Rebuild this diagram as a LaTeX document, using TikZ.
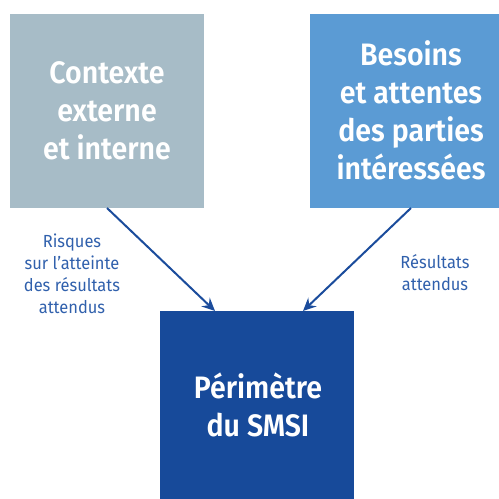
\documentclass[tikz,border=0pt]{standalone}
\usepackage{fontspec}
\setmainfont{Fira Sans}
\newfontfamily\boxfont[FakeStretch=0.92]{Fira Sans SemiBold}
\newfontfamily\lblfont[FakeStretch=0.94]{Fira Sans}
\usetikzlibrary{arrows.meta}
\definecolor{cgrey}{HTML}{A7BCC7}
\definecolor{clight}{HTML}{5B9BD4}
\definecolor{cdark}{HTML}{174A9A}
\definecolor{carrow}{HTML}{1B4C9C}
\definecolor{clabel}{HTML}{3060AC}
\begin{document}
\begin{tikzpicture}[x=1pt,y=-1pt,
  boxtext/.style={text=white,font=\boxfont\fontsize{31}{38}\selectfont,align=center},
  lbltext/.style={text=clabel,font=\lblfont\fontsize{17.5}{22}\selectfont,align=center},
  conn/.style={draw=carrow,line width=2pt,-{Stealth[length=13pt,width=12pt,inset=4.5pt]}}]
\useasboundingbox (0,0) rectangle (499,499);
\fill[cgrey] (10,14) rectangle (204,208);
\fill[clight] (310,14) rectangle (499,208);
\fill[cdark] (160,311) rectangle (354,499);
\coordinate (ls) at (107,208);
\coordinate (rs) at (411,208);
\coordinate (le) at (215,311);
\coordinate (re) at (303,311);
\node[boxtext] (ctx) at (107,111) {Contexte\\externe\\et interne};
\node[boxtext] (bes) at (411,110) {Besoins\\et attentes\\des parties\\intéressées};
\node[boxtext] (per) at (258,405) {Périmètre\\du SMSI};
\node[lbltext] (l1) at (72,274) {Risques\\sur l’atteinte\\des résultats\\attendus};
\node[lbltext] (l2) at (435,273) {Résultats\\attendus};
\draw[conn] (ls) -- (le);
\draw[conn] (rs) -- (re);
\end{tikzpicture}
\end{document}
